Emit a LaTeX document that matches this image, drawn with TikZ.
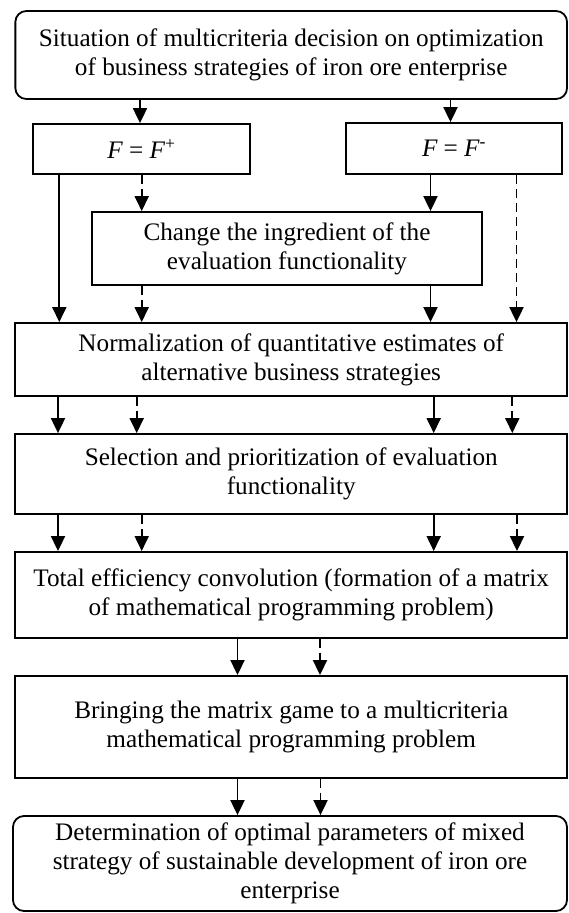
\documentclass[tikz,border=0pt]{standalone}
\usepackage{fontspec}
\setmainfont{Liberation Serif}
\usetikzlibrary{arrows.meta}
\begin{document}
\begin{tikzpicture}[x=1pt,y=-1pt,
  box/.style={draw, line width=1.8pt, inner sep=0pt, align=center, font=\fontsize{25.2}{29}\selectfont},
  rbox/.style={box, rounded corners=11pt},
  sol/.style={line width=1.9pt, -{Triangle[width=14pt,length=15pt]}},
  das/.style={sol, dash pattern=on 9pt off 5pt}]
\useasboundingbox (0,0) rectangle (568,913);

\node[rbox, minimum width=551.7pt, minimum height=88pt] (top) at (291.2,55)
  {Situation of multicriteria decision on optimization\\of business strategies of iron ore enterprise};
\node[box, minimum width=217pt, minimum height=50pt] (fp) at (141.5,149)
  {{\itshape F} = {\itshape F}\textsuperscript{+}};
\node[box, minimum width=216pt, minimum height=51pt] (fm) at (454,148.5)
  {{\itshape F} = {\itshape F}\textsuperscript{-}};
\node[box, minimum width=390pt, minimum height=73pt] (chg) at (287,248.5)
  {Change the ingredient of the\\evaluation functionality};
\node[box, minimum width=551.7pt, minimum height=73pt] (norm) at (291.2,359.5)
  {Normalization of quantitative estimates of\\alternative business strategies};
\node[box, minimum width=551.7pt, minimum height=80pt] (sel) at (291.2,474)
  {Selection and prioritization of evaluation\\functionality};
\node[box, minimum width=551.7pt, minimum height=85.7pt] (tot) at (291.2,594.8)
  {Total efficiency convolution (formation of a matrix\\of mathematical programming problem)};
\node[box, minimum width=551.7pt, minimum height=101.7pt] (bring) at (291.2,726.8)
  {Bringing the matrix game to a multicriteria\\mathematical programming problem};
\node[rbox, minimum width=554pt, minimum height=95pt] (det) at (290,863.5)
  {Determination of optimal parameters of mixed\\strategy of sustainable development of iron ore\\enterprise};

% x positions of connectors
\coordinate (xA) at (140,0);
\coordinate (xB) at (450.5,0);
\coordinate (xC) at (59.3,0);
\coordinate (xD) at (141.7,0);
\coordinate (xE) at (430.5,0);
\coordinate (xF) at (516.5,0);
\coordinate (n1) at (58,0);
\coordinate (n2) at (136.7,0);
\coordinate (n3) at (433.7,0);
\coordinate (n4) at (512.3,0);
\coordinate (s2) at (141.7,0);
\coordinate (s4) at (517,0);
\coordinate (t1) at (237.5,0);
\coordinate (t2) at (320,0);
\coordinate (b2) at (320.5,0);

\draw[sol] (top.south -| xA) -- (fp.north -| xA);
\draw[sol] (top.south -| xB) -- (fm.north -| xB);

\draw[sol] (fp.south -| xC) -- (norm.north -| xC);
\draw[das] (fp.south -| xD) -- (chg.north -| xD);
\draw[sol] (fm.south -| xE) -- (chg.north -| xE);
\draw[das] (fm.south -| xF) -- (norm.north -| xF);

\draw[das] (chg.south -| xD) -- (norm.north -| xD);
\draw[sol] (chg.south -| xE) -- (norm.north -| xE);

\draw[sol] (norm.south -| n1) -- (sel.north -| n1);
\draw[das] (norm.south -| n2) -- (sel.north -| n2);
\draw[sol] (norm.south -| n3) -- (sel.north -| n3);
\draw[das] (norm.south -| n4) -- (sel.north -| n4);

\draw[sol] (sel.south -| n1) -- (tot.north -| n1);
\draw[das] (sel.south -| s2) -- (tot.north -| s2);
\draw[sol] (sel.south -| n3) -- (tot.north -| n3);
\draw[das] (sel.south -| s4) -- (tot.north -| s4);

\draw[sol] (tot.south -| t1) -- (bring.north -| t1);
\draw[das] (tot.south -| t2) -- (bring.north -| t2);

\draw[sol] (bring.south -| t1) -- (det.north -| t1);
\draw[das] (bring.south -| b2) -- (det.north -| b2);
\end{tikzpicture}
\end{document}
